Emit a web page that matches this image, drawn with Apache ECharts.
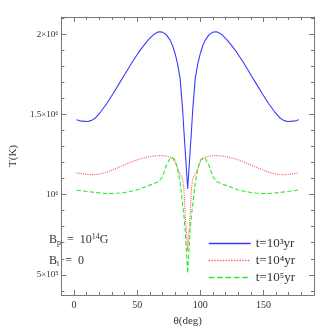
<!DOCTYPE html>
<html>
<head>
<meta charset="utf-8">
<script src="https://cdn.jsdelivr.net/npm/echarts@6/dist/echarts.min.js"></script>
<style>html,body{margin:0;padding:0;background:#fff}#c{width:332px;height:332px}</style>
</head>
<body>
<div id="c"></div>
<script>
const theta = [2, 6, 11, 14, 17, 21, 26, 31, 36, 41, 46, 51, 55, 59, 63, 67, 70, 73, 76, 78, 80, 82, 84, 86, 87, 88, 90,
  92, 93, 94, 96, 98, 100, 102, 104, 107, 110, 113, 117, 121, 125, 129, 134, 139, 144, 149, 154, 159, 163, 166, 169, 174, 178];
const tempE3 = [1467000, 1458000, 1456000, 1463000, 1478000, 1515000, 1568000, 1630000, 1695000, 1760000, 1825000, 1885000, 1927000, 1966000, 1998000, 2016000, 2013000, 1998000, 1965000, 1930000, 1880000, 1815000, 1725000, 1530000, 1400000, 1280000, 1036000,
  1280000, 1400000, 1530000, 1725000, 1815000, 1880000, 1930000, 1965000, 1998000, 2013000, 2016000, 1998000, 1966000, 1927000, 1885000, 1825000, 1760000, 1695000, 1630000, 1568000, 1515000, 1478000, 1463000, 1456000, 1458000, 1467000];
const tempE4 = [1136000, 1130000, 1126000, 1124000, 1125000, 1130000, 1140000, 1155000, 1172000, 1188000, 1205000, 1220000, 1228000, 1236000, 1241000, 1243000, 1243000, 1240000, 1234000, 1224000, 1205000, 1165000, 1125000, 1100000, 1040000, 880000, 650000,
  880000, 1040000, 1100000, 1125000, 1165000, 1205000, 1224000, 1234000, 1240000, 1243000, 1243000, 1241000, 1236000, 1228000, 1220000, 1205000, 1188000, 1172000, 1155000, 1140000, 1130000, 1125000, 1124000, 1126000, 1130000, 1136000];
const tempE5 = [1027000, 1024000, 1019000, 1016000, 1013000, 1010000, 1007000, 1007000, 1010000, 1015000, 1022000, 1032000, 1044000, 1056000, 1067000, 1082000, 1110000, 1180000, 1225000, 1230000, 1215000, 1160000, 1075000, 940000, 870000, 780000, 510000,
  780000, 870000, 940000, 1075000, 1160000, 1215000, 1230000, 1225000, 1180000, 1110000, 1082000, 1067000, 1056000, 1044000, 1032000, 1022000, 1015000, 1010000, 1007000, 1007000, 1010000, 1013000, 1016000, 1019000, 1024000, 1030000];
const seriesNames = ['t=10³yr', 't=10⁴yr', 't=10⁵yr'];
const xMajor = [0, 50, 100, 150];
const xMinor = [10, 20, 30, 40, 60, 70, 80, 90, 110, 120, 130, 140, 160, 170, 180];
const yMajor = [500000, 1000000, 1500000, 2000000];
const yMajorLabels = ['5×10⁵', '10⁶', '1.5×10⁶', '2×10⁶'];
const yMinor = [400000, 600000, 700000, 800000, 900000, 1100000, 1200000, 1300000, 1400000, 1600000, 1700000, 1800000, 1900000, 2100000];

const axisColor = '#777';
const font = '"Liberation Serif", "DejaVu Serif", serif';
const zip = (a, b) => a.map((v, i) => [v, b[i]]);

function xAx(pos, ticks, len, labels, line) {
  return {
    type: 'value', position: pos, min: -10, max: 190,
    axisLine: { show: line, onZero: false, lineStyle: { color: axisColor, width: 1 } },
    axisTick: { show: true, inside: true, length: len, customValues: ticks, lineStyle: { color: axisColor } },
    axisLabel: labels ? { show: true, customValues: xMajor, color: '#333', fontFamily: font, fontSize: 10, margin: 5 } : { show: false },
    splitLine: { show: false },
    name: labels ? 'θ(deg)' : '', nameLocation: 'middle', nameGap: 21,
    nameTextStyle: { color: '#333', fontFamily: font, fontSize: 11 }
  };
}
function yAx(pos, ticks, len, labels, line) {
  return {
    type: 'value', position: pos, min: 374000, max: 2107500,
    axisLine: { show: line, onZero: false, lineStyle: { color: axisColor, width: 1 } },
    axisTick: { show: true, inside: true, length: len, customValues: ticks, lineStyle: { color: axisColor } },
    axisLabel: labels ? {
      show: true, customValues: yMajor, color: '#333', fontFamily: font, fontSize: 9, margin: 3,
      formatter: v => yMajorLabels[yMajor.indexOf(v)] || ''
    } : { show: false },
    splitLine: { show: false },
    name: labels ? 'T(K)' : '', nameLocation: 'middle', nameGap: 28, nameRotate: 90,
    nameTextStyle: { color: '#333', fontFamily: font, fontSize: 11 }
  };
}

const chart = echarts.init(document.getElementById('c'), null, { renderer: 'canvas' });
const colors = ['#3b3bff', '#ff5a5a', '#2ee82e'];
const types = ['solid', 'dotted', 'dashed'];
const datas = [tempE3, tempE4, tempE5];
chart.setOption({
  animation: false,
  grid: { left: 36, top: 17, right: 18, bottom: 36 },
  xAxis: [
    xAx('bottom', xMajor, 5, true, true),
    xAx('bottom', xMinor, 3, false, false),
    xAx('top', xMajor, 5, false, true),
    xAx('top', xMinor, 3, false, false)
  ],
  yAxis: [
    yAx('left', yMajor, 5, true, true),
    yAx('left', yMinor, 3, false, false),
    yAx('right', yMajor, 5, false, true),
    yAx('right', yMinor, 3, false, false)
  ],
  legend: {
    orient: 'vertical', left: 203, top: 232, itemWidth: 42, itemHeight: 12, itemGap: 4,
    itemStyle: { opacity: 0 },
    textStyle: { color: '#333', fontFamily: font, fontSize: 13 },
    data: seriesNames.map((n, i) => ({
      name: n,
      lineStyle: { color: colors[i], width: 1.4, type: types[i] }
    }))
  },
  series: datas.map((d, i) => ({
    name: seriesNames[i], type: 'line', data: zip(theta, d), showSymbol: false, symbol: 'none',
    lineStyle: { color: colors[i], width: 1.1, type: types[i] }, itemStyle: { color: colors[i] }
  })),
  graphic: [
    { type: 'text', left: 49, top: 233, style: {
      text: '{n|B}{sub|p}{n|  =  10}{sup|14}{n|G}',
      rich: {
        n: { fontFamily: font, fontSize: 12, fill: '#333', lineHeight: 14 },
        sub: { fontFamily: font, fontSize: 8, fill: '#333', verticalAlign: 'bottom', lineHeight: 10 },
        sup: { fontFamily: font, fontSize: 8, fill: '#333', verticalAlign: 'top', lineHeight: 10 }
      } } },
    { type: 'text', left: 49, top: 255, style: {
      text: '{n|B}{sub|t}{n|  =  0}',
      rich: {
        n: { fontFamily: font, fontSize: 12, fill: '#333', lineHeight: 14 },
        sub: { fontFamily: font, fontSize: 8, fill: '#333', verticalAlign: 'bottom', lineHeight: 10 }
      } } }
  ]
});
</script>
</body>
</html>
